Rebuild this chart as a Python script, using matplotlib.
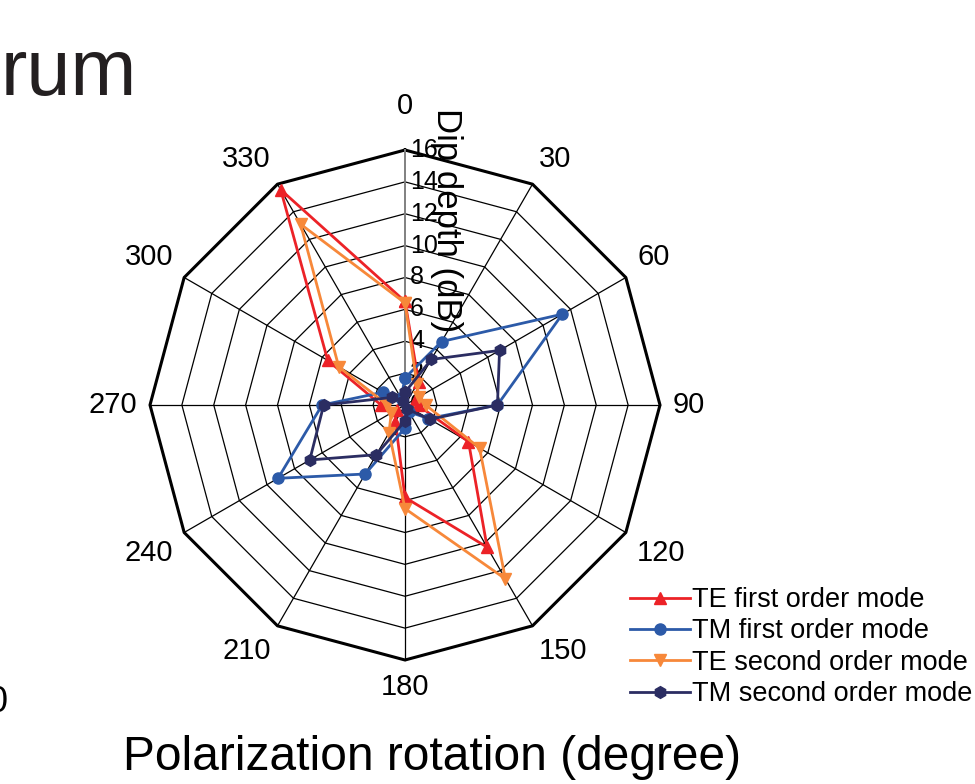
import numpy as np
import matplotlib
matplotlib.use('Agg')
import matplotlib.pyplot as plt
from matplotlib.transforms import offset_copy

plt.rcParams['font.family'] = ['Liberation Sans', 'DejaVu Sans']

# polarization rotation angles (degree)
angles_deg = [0, 30, 60, 90, 120, 150, 180, 210, 240, 270, 300, 330]

# dip depth (dB) for each mode
te_first = [6.5, 1.7, 0.8, 0.8, 4.6, 10.3, 5.8, 1.2, 0.6, 1.5, 5.6, 15.6]
tm_first = [1.7, 4.6, 11.4, 5.8, 1.7, 0.5, 1.45, 5.0, 9.2, 5.2, 1.6, 0.5]
te_second = [6.4, 1.5, 1.0, 1.3, 5.4, 12.6, 6.5, 2.0, 1.0, 1.1, 4.8, 13.1]
tm_second = [0.8, 3.3, 6.85, 5.8, 1.8, 0.3, 1.0, 3.6, 6.9, 5.1, 0.95, 0.3]

series_names = ['TE first order mode', 'TM first order mode',
                'TE second order mode', 'TM second order mode']
series_colors = ['#ec2227', '#2c5aa8', '#f7883a', '#2b2d62']
series_markers = ['^', 'o', 'v', 'h']
marker_sizes = [9, 8, 9, 8.5]

r_ticks = [0, 2, 4, 6, 8, 10, 12, 14, 16]
r_max = 16

theta = np.deg2rad(angles_deg)
theta_c = np.append(theta, theta[0])

fig = plt.figure(figsize=(9.75, 7.84), dpi=100)
ax = fig.add_axes([(405 - 255) / 975, (784 - 405 - 255) / 784, 510 / 975, 510 / 784],
                  projection='polar')
ax.set_theta_zero_location('N')
ax.set_theta_direction(-1)
ax.set_ylim(0, r_max)
ax.grid(False)
ax.set_xticks([])
ax.set_yticks([])
ax.spines['polar'].set_visible(False)
ax.patch.set_visible(False)

# polygon grid rings
for r in r_ticks[1:]:
    ax.plot(theta_c, np.full(len(theta_c), r), color='black',
            lw=2.2 if r == r_max else 0.9, zorder=1, clip_on=False)
# spokes
for t in theta:
    ax.plot([t, t], [0, r_max], color='0.5' if t == 0 else 'black',
            lw=1.4 if t == 0 else 0.9, zorder=1, clip_on=False)

# radial value labels along the 0 degree spoke
shift = offset_copy(ax.transData, fig=fig, x=5, y=0, units='dots')
for r in r_ticks:
    ax.text(0, r, str(r), transform=shift, ha='left', va='center',
            fontsize=18, zorder=2)

# angle labels just outside the outer polygon corners
for t, a in zip(theta, angles_deg):
    s, c = np.sin(t), np.cos(t)
    gap = 30 if a == 0 else 13
    ha = 'left' if s > 0.01 else ('right' if s < -0.01 else 'center')
    va = 'bottom' if c > 0.01 else ('top' if c < -0.01 else 'center')
    tr = offset_copy(ax.transData, fig=fig, x=gap * s, y=gap * c, units='dots')
    ax.text(t, r_max, str(a), transform=tr, ha=ha, va=va, fontsize=21,
            clip_on=False)

all_series = [te_first, tm_first, te_second, tm_second]
for vals, name, c, m, ms in zip(all_series, series_names, series_colors,
                                series_markers, marker_sizes):
    v = np.append(vals, vals[0])
    ax.plot(theta_c, v, color=c, lw=2, marker=m, ms=ms, label=name,
            zorder=3, clip_on=False)

fig.legend(loc='upper left', bbox_to_anchor=(630 / 975, 1 - 587 / 784),
           frameon=False, fontsize=19.5, handlelength=2.2, handletextpad=0.1,
           labelspacing=0.2, borderaxespad=0, borderpad=0)

fig.text(446 / 975, 1 - 220 / 784, 'Dip depth (dB)', rotation=-90,
         ha='center', va='center', fontsize=25)
fig.text(432 / 975, 1 - 757 / 784, 'Polarization rotation (degree)',
         ha='center', va='center', fontsize=34.5)

fig.text(1 / 975, 1 - 95 / 784, 'rum', ha='left', va='baseline',
         fontsize=57, color='#231f20')
fig.text(8 / 975, 1 - 703 / 784, '0', ha='right', va='center', fontsize=26)

fig.savefig('out.png', dpi=100)
